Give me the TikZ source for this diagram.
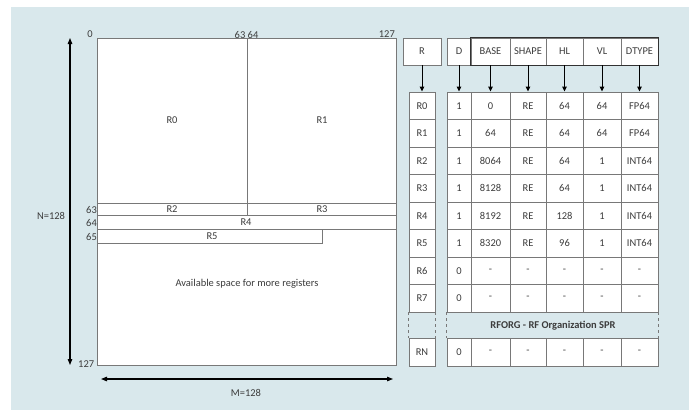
\documentclass[tikz,border=0pt]{standalone}
\usepackage{fontspec}
\setmainfont{Carlito}
\usetikzlibrary{arrows.meta}
\definecolor{bgblue}{RGB}{217,232,236}
\definecolor{lineg}{RGB}{120,120,120}
\definecolor{txtg}{RGB}{60,60,60}
\definecolor{hdrline}{RGB}{50,50,50}
\newcommand\myrow[9]{%
  \node[cell, minimum width=26bp] (R#1) at (422,#2) {#3};
  \node[cell, minimum width=24bp] (D#1) at (459,#2) {#4};
  \node[cell, minimum width=39bp] (BASE#1) at (490.5,#2) {#5};
  \node[cell, minimum width=36bp] (SHAPE#1) at (528,#2) {#6};
  \node[cell, minimum width=37bp] (HL#1) at (564.5,#2) {#7};
  \node[cell, minimum width=38bp] (VL#1) at (602,#2) {#8};
  \node[cell, minimum width=37bp] (DTYPE#1) at (639.5,#2) {#9};
}
\begin{document}
\begin{tikzpicture}[x=1bp,y=-1bp,
  every node/.style={font=\fontsize{10.5}{12}\selectfont, text=txtg, inner sep=0pt},
  cell/.style={draw=lineg, line width=0.9bp, fill=white, minimum height=27.5bp},
  hcell/.style={cell, minimum height=27bp},
  region/.style={draw=lineg, line width=0.9bp, fill=white},
  arr/.style={draw=black, line width=1bp, -{Triangle[length=5bp,width=4.5bp]}},
  dim/.style={draw=black, line width=1.1bp, {Triangle[length=6bp,width=4.5bp]}-{Triangle[length=6bp,width=4.5bp]}},
  hdrbox/.style={draw=hdrline, line width=1.6bp}
]
\useasboundingbox (0,0) rectangle (689,410);
\fill[bgblue] (11,7) rectangle (689,410);

% register file area
\draw[region] (97,38) rectangle (396,365);
\draw[region] (97,38) rectangle (247,203);
\draw[region] (247,38) rectangle (396,203);
\draw[region] (97,203) rectangle (247,215);
\draw[region] (247,203) rectangle (396,215);
\draw[region] (97,215) rectangle (396,229);
\draw[region] (97,229) rectangle (322,243);
\node (lR0) at (172,120) {R0};
\node (lR1) at (322,120) {R1};
\node (lR2) at (172,209) {R2};
\node (lR3) at (322,209) {R3};
\node (lR4) at (246,222) {R4};
\node (lR5) at (212,236) {R5};
\node (avail) at (247,284) {Available space for more registers};

\node[anchor=south] (t0) at (90,38) {0};
\node[anchor=south east] (t63) at (245.5,39) {63};
\node[anchor=south west] (t64) at (247.5,39) {64};
\node[anchor=south east] (t127) at (395,38) {127};
\node[anchor=east] (s63) at (97,209.5) {63};
\node[anchor=east] (s64) at (97,222.5) {64};
\node[anchor=east] (s65) at (97,236.5) {65};
\node[anchor=west] (s127) at (78,364) {127};

\coordinate (ntop) at (70,38);
\coordinate (nbot) at (70,365);
\draw[dim] (ntop) -- (nbot);
\node (nlab) at (51,216) {N=128};
\coordinate (mleft) at (101,379);
\coordinate (mright) at (393,379);
\draw[dim] (mleft) -- (mright);
\node (mlab) at (246,393) {M=128};

% header
\node[hcell, minimum width=38bp] (hR) at (422,51.5) {R};
\node[hcell, minimum width=24bp] (hD) at (459,51.5) {D};
\node[hcell, minimum width=39bp] (hBASE) at (490.5,51.5) {BASE};
\node[hcell, minimum width=36bp] (hSHAPE) at (528,51.5) {SHAPE};
\node[hcell, minimum width=37bp] (hHL) at (564.5,51.5) {HL};
\node[hcell, minimum width=38bp] (hVL) at (602,51.5) {VL};
\node[hcell, minimum width=37bp] (hDTYPE) at (639.5,51.5) {DTYPE};
\draw[hdrbox] (hBASE.north west) rectangle (hDTYPE.south east);

% rows
\myrow{0}{105.75}{R0}{1}{0}{RE}{64}{64}{FP64}
\myrow{1}{133.25}{R1}{1}{64}{RE}{64}{64}{FP64}
\myrow{2}{160.75}{R2}{1}{8064}{RE}{64}{1}{INT64}
\myrow{3}{188.25}{R3}{1}{8128}{RE}{64}{1}{INT64}
\myrow{4}{215.75}{R4}{1}{8192}{RE}{128}{1}{INT64}
\myrow{5}{243.25}{R5}{1}{8320}{RE}{96}{1}{INT64}
\myrow{6}{270.75}{R6}{0}{-}{-}{-}{-}{-}
\myrow{7}{298.25}{R7}{0}{-}{-}{-}{-}{-}
\myrow{N}{352.25}{RN}{0}{-}{-}{-}{-}{-}

\foreach \c in {R,D,BASE,SHAPE,HL,VL,DTYPE}
  \draw[arr] (h\c) -- (\c0);

\draw[lineg, line width=0.9bp, dashed] (R7.south west) -- (RN.north west);
\draw[lineg, line width=0.9bp, dashed] (R7.south east) -- (RN.north east);
\draw[lineg, line width=0.9bp, dashed] (D7.south west) -- (DN.north west);
\draw[lineg, line width=0.9bp, dashed] (DTYPE7.south east) -- (DTYPEN.north east);
\node[font=\fontsize{10.5}{12}\selectfont\bfseries] (rforg) at (553,325.5) {RFORG - RF Organization SPR};
\end{tikzpicture}
\end{document}
